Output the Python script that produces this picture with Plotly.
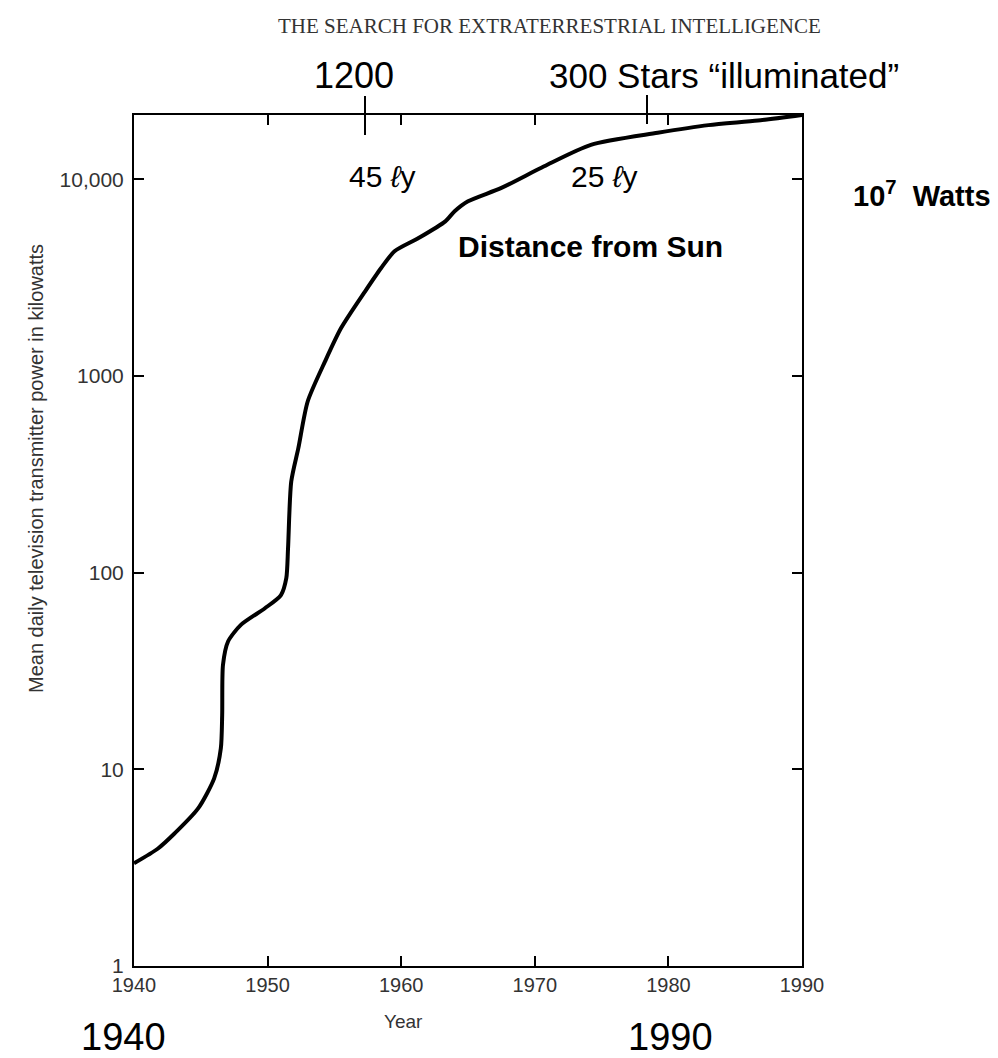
import plotly.graph_objects as go

# Data
years = [1940, 1941.8, 1943.05, 1944.8, 1946.0, 1946.5, 1946.6, 1946.66, 1947.04, 1948.0,
         1949.8, 1951.0, 1951.4, 1951.53, 1951.77, 1952.3, 1953.0, 1954.3, 1955.5, 1957.3,
         1958.5, 1959.5, 1961.3, 1963.3, 1964.0, 1965.0, 1967.5, 1970.7, 1974.2, 1979.2,
         1983.0, 1986.7, 1990]
power_kw = [3.33, 3.96, 4.73, 6.33, 9.0, 12.8, 18.9, 34, 44.7, 54.3,
            66, 77, 93.8, 133, 291, 430, 743, 1188, 1755, 2700,
            3548, 4313, 5036, 6125, 6890, 7745, 9060, 11670, 15000, 17270,
            18900, 19950, 21300]

x_ticks = [1940, 1950, 1960, 1970, 1980, 1990]
y_ticks = [1, 10, 100, 1000, 10000]
y_tick_text = ["1", "10", "100", "1000", "10,000"]

SANS = "Liberation Sans, Arial, Helvetica, sans-serif"
SERIF = "Liberation Serif, Times New Roman, serif"

W, H = 998, 1058
ML, MR, MT, MB = 126, 204, 107, 100
PW, PH = W - ML - MR, H - MT - MB

fig = go.Figure()
fig.add_trace(go.Scatter(
    x=years, y=power_kw, mode="lines",
    line=dict(color="black", width=4, shape="spline", smoothing=0.7),
    hoverinfo="skip", showlegend=False,
))

fig.update_layout(
    width=W, height=H,
    margin=dict(l=ML, r=MR, t=MT, b=MB, autoexpand=False),
    paper_bgcolor="white", plot_bgcolor="white",
    showlegend=False,
)
fig.update_xaxes(
    range=[1940, 1990], tickvals=x_ticks, ticks="inside", ticklen=10, tickwidth=2,
    tickcolor="black", showline=True, linecolor="black", linewidth=2, mirror="ticks",
    showgrid=False, zeroline=False, automargin=False,
    tickfont=dict(family=SANS, size=20, color="#333"),
)
fig.update_yaxes(
    type="log", range=[0, 4.328], tickvals=y_ticks, ticktext=y_tick_text,
    ticks="inside", ticklen=10, tickwidth=2, tickcolor="black",
    showline=True, linecolor="black", linewidth=2, mirror="ticks",
    showgrid=False, zeroline=False, automargin=False, ticklabelstandoff=4,
    tickfont=dict(family=SANS, size=21, color="#333"),
)

def px_x(x):
    return (x - ML) / PW

def px_y(y):
    return (H - MB - y) / PH

anns = [
    dict(text="THE SEARCH FOR EXTRATERRESTRIAL INTELLIGENCE", x=541, y=18,
         font=dict(family=SERIF, size=21, color="#333")),
    dict(text="1200", x=346, y=68, font=dict(family=SANS, size=36, color="black")),
    dict(text="300 Stars “illuminated”", x=539, y=68, xanchor="left",
         font=dict(family=SANS, size=35, color="black")),
    dict(text="45 <i>ℓ</i>y", x=374, y=168, font=dict(family=SANS, size=30, color="black")),
    dict(text="25 <i>ℓ</i>y", x=596, y=168, font=dict(family=SANS, size=30, color="black")),
    dict(text="<b>Distance from Sun</b>", x=448, y=238, xanchor="left",
         font=dict(family=SANS, size=30, color="black")),
    dict(text="<b>10<sup>7</sup>  Watts</b>", x=843, y=186, xanchor="left",
         font=dict(family=SANS, size=29, color="black")),
    dict(text="1940", x=115, y=1029, font=dict(family=SANS, size=38, color="black")),
    dict(text="1990", x=662, y=1029, font=dict(family=SANS, size=38, color="black")),
    dict(text="Year", x=395, y=1013, font=dict(family=SANS, size=19, color="#333")),
    dict(text="Mean daily television transmitter power in kilowatts", x=28, y=461,
         textangle=-90, font=dict(family=SANS, size=20, color="#333")),
]
for a in anns:
    fig.add_annotation(
        text=a["text"], xref="paper", yref="paper",
        x=px_x(a["x"]), y=px_y(a["y"]),
        xanchor=a.get("xanchor", "center"), yanchor="middle",
        textangle=a.get("textangle", 0),
        showarrow=False, font=a["font"],
    )

# small vertical markers above the frame
for xm, y0, y1 in [(357, 88, 127), (639, 87, 116)]:
    fig.add_shape(type="line", xref="paper", yref="paper",
                  x0=px_x(xm), x1=px_x(xm), y0=px_y(y0), y1=px_y(y1),
                  line=dict(color="black", width=2))

fig.write_html("out.html")
